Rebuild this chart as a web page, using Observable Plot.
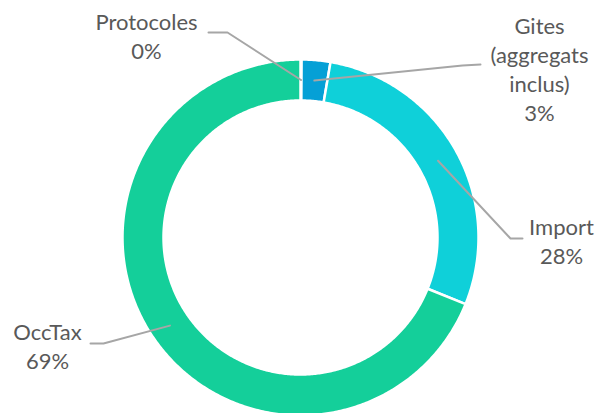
<!DOCTYPE html>
<html>
<head>
<meta charset="utf-8">
<script src="https://cdn.jsdelivr.net/npm/d3@7"></script>
<script src="https://cdn.jsdelivr.net/npm/@observablehq/plot@0.6"></script>
<style>
  html, body { margin: 0; padding: 0; background: #fff; }
  #chart { width: 602px; height: 413px; }
</style>
</head>
<body>
<div id="chart"></div>
<script>
// Data
const categories = ["Protocoles", "Gites\n(aggregats\ninclus)", "Import", "OccTax"];
const values = [0.1, 2.6, 28.4, 68.9];
const percentLabels = ["0%", "3%", "28%", "69%"];
const colors = ["#1aa0d8", "#05a0d6", "#0fd0d9", "#14cf9a"];

// Layout (pixels)
const W = 602, H = 413;
const cx = 300, cy = 237, rOuter = 178, rInner = 137;
const rMid = (rOuter + rInner) / 2;
// label anchor and leader elbow/end per category
const labelPos = [[146, 35], [539, 68], [561, 240], [47, 345]];
const leaderTail = [
  [[227, 32], [208, 32]],
  [[462, 65], [480, 64]],
  [[510, 238], [522, 238]],
  [[103, 343], [90, 343]]
];

const pie = d3.pie().sort(null).value(d => d.value)(
  categories.map((c, i) => ({name: c, value: values[i], i}))
);
const pt = (a, r) => [cx + r * Math.sin(a), cy - r * Math.cos(a)];

const arcPts = [];
pie.forEach(s => {
  const n = Math.max(2, Math.ceil((s.endAngle - s.startAngle) / 0.01));
  const pts = [];
  for (let k = 0; k <= n; k++) pts.push(pt(s.startAngle + (s.endAngle - s.startAngle) * k / n, rOuter));
  for (let k = n; k >= 0; k--) pts.push(pt(s.startAngle + (s.endAngle - s.startAngle) * k / n, rInner));
  pts.push(pts[0]);
  pts.forEach(p => arcPts.push({x: p[0], y: p[1], name: s.data.name}));
});

const leaderPts = [];
pie.forEach((s, i) => {
  const a = (s.startAngle + s.endAngle) / 2;
  const p0 = pt(a, rMid);
  [p0, ...leaderTail[i]].forEach(p => leaderPts.push({x: p[0], y: p[1], name: s.data.name}));
});

const labels = categories.map((c, i) => ({
  x: labelPos[i][0], y: labelPos[i][1], text: c + "\n" + percentLabels[i]
}));

const chart = Plot.plot({
  width: W, height: H,
  margin: 0,
  x: {domain: [0, W], axis: null},
  y: {domain: [H, 0], axis: null},
  color: {domain: categories, range: colors},
  marks: [
    Plot.line(arcPts, {x: "x", y: "y", z: "name", fill: "name", stroke: "white", strokeWidth: 2.5, curve: "linear"}),
    Plot.line(leaderPts, {x: "x", y: "y", z: "name", stroke: "#a6a6a6", strokeWidth: 2}),
    Plot.text(labels, {x: "x", y: "y", text: "text", fontSize: 22, fill: "#595959", lineHeight: 1.32, lineAnchor: "middle", textAnchor: "middle", fontFamily: "Lato"})
  ]
});
document.getElementById("chart").appendChild(chart);
</script>
</body>
</html>
